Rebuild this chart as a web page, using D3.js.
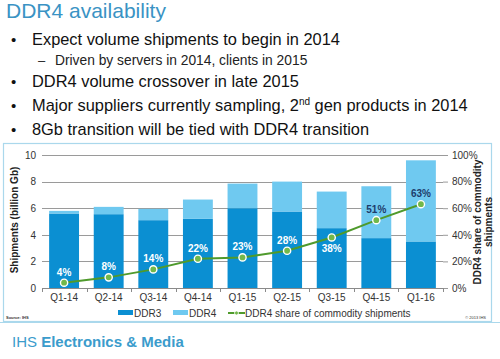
<!DOCTYPE html>
<html>
<head>
<meta charset="utf-8">
<script src="https://cdn.jsdelivr.net/npm/d3@7"></script>
<style>
  html, body { margin: 0; padding: 0; background: #fff; }
  svg { display: block; font-family: "Liberation Sans", Arial, sans-serif; }
</style>
</head>
<body>
<svg id="chart" width="500" height="359"></svg>
<script>
const categories = ["Q1-14", "Q2-14", "Q3-14", "Q4-14", "Q1-15", "Q2-15", "Q3-15", "Q4-15", "Q1-16"];
const ddr3 = [5.6, 5.55, 5.1, 5.2, 6.0, 5.75, 4.5, 3.75, 3.5];
const ddr4 = [0.2, 0.55, 0.85, 1.45, 1.85, 2.25, 2.75, 3.9, 6.1];
const share = [4, 8, 14, 22, 23, 28, 38, 51, 63];
const shareLabelBelow = [false, false, false, false, false, false, true, false, false];
const leftTicks = [0, 2, 4, 6, 8, 10];
const rightTicks = [0, 20, 40, 60, 80, 100];

const title = "DDR4 availability";
const bullets = [
  { level: 1, text: "Expect volume shipments to begin in 2014", y: 45 },
  { level: 2, text: "Driven by servers in 2014, clients in 2015", y: 65 },
  { level: 1, text: "DDR4 volume crossover in late 2015", y: 87 },
  { level: 1, text: "Major suppliers currently sampling, 2", sup: "nd", rest: " gen products in 2014", y: 111 },
  { level: 1, text: "8Gb transition will be tied with DDR4 transition", y: 135 }
];

const C_DDR3 = "#0b8fd2";
const C_DDR4 = "#6fc9f0";
const C_LINE = "#4f9a2c";
const C_TITLE = "#3a93c4";

const svg = d3.select("#chart");

// Title
svg.append("text").attr("x", 6).attr("y", 18)
  .attr("font-size", 21).attr("fill", C_TITLE).text(title);

// Bullets
bullets.forEach(b => {
  if (b.level === 1) {
    svg.append("text").attr("x", 11).attr("y", b.y).attr("font-size", 15).attr("fill", "#111").text("•");
    const t = svg.append("text").attr("x", 32).attr("y", b.y).attr("font-size", 16.4).attr("fill", "#111");
    t.append("tspan").text(b.text);
    if (b.sup) {
      t.append("tspan").attr("font-size", 10).attr("dy", -6).text(b.sup);
      t.append("tspan").attr("dy", 6).text(b.rest);
    }
  } else {
    svg.append("text").attr("x", 38).attr("y", b.y).attr("font-size", 13).attr("fill", "#222").text("–");
    svg.append("text").attr("x", 55).attr("y", b.y).attr("font-size", 13.8).attr("fill", "#222").text(b.text);
  }
});

// Panel
svg.append("rect").attr("x", 3.5).attr("y", 143.5).attr("width", 488).attr("height", 178)
  .attr("fill", "#fff").attr("stroke", "#aad8ec").attr("stroke-width", 1.2);
svg.append("line").attr("x1", 0).attr("x2", 500).attr("y1", 322.5).attr("y2", 322.5)
  .attr("stroke", "#aad8ec").attr("stroke-width", 1.2);

// Scales
const x = d3.scaleBand().domain(categories).range([42, 443]).paddingInner(0.33).paddingOuter(0.16);
const y = d3.scaleLinear().domain([0, 10]).range([288, 155]);
const yr = d3.scaleLinear().domain([0, 100]).range([288, 155]);

// Gridlines
svg.append("g").selectAll("line").data(leftTicks.slice(1)).join("line")
  .attr("x1", 42).attr("x2", 443)
  .attr("y1", d => Math.round(y(d)) + 0.5).attr("y2", d => Math.round(y(d)) + 0.5)
  .attr("stroke", "#9a9a9a").attr("stroke-width", 1);

// Left axis
const gL = svg.append("g").attr("transform", "translate(42,0)")
  .call(d3.axisLeft(y).tickValues(leftTicks).tickSize(0).tickPadding(6));
gL.select(".domain").remove();
gL.selectAll("text").attr("font-size", 10).attr("fill", "#333").attr("font-family", "Liberation Sans, Arial, sans-serif");

// Right axis
const gR = svg.append("g").attr("transform", "translate(443,0)")
  .call(d3.axisRight(yr).tickValues(rightTicks).tickFormat(d => d + "%").tickSize(5).tickPadding(4));
gR.select(".domain").remove();
gR.selectAll("line").attr("stroke", "#9a9a9a");
gR.selectAll("text").attr("font-size", 10).attr("fill", "#333").attr("font-family", "Liberation Sans, Arial, sans-serif");

// Bars
const stacked = categories.map((c, i) => ({ c, d3v: ddr3[i], d4v: ddr4[i] }));
svg.append("g").selectAll("rect").data(stacked).join("rect")
  .attr("x", d => x(d.c)).attr("width", x.bandwidth())
  .attr("y", d => y(d.d3v)).attr("height", d => y(0) - y(d.d3v))
  .attr("fill", C_DDR3);
svg.append("g").selectAll("rect").data(stacked).join("rect")
  .attr("x", d => x(d.c)).attr("width", x.bandwidth())
  .attr("y", d => y(d.d3v + d.d4v)).attr("height", d => y(d.d3v) - y(d.d3v + d.d4v))
  .attr("fill", C_DDR4);

// Bottom axis
const gB = svg.append("g").attr("transform", "translate(0,288)")
  .call(d3.axisBottom(x).tickSize(0).tickPadding(6));
gB.select(".domain").attr("stroke", "#8a8a8a");
gB.selectAll("text").attr("font-size", 10).attr("fill", "#333").attr("font-family", "Liberation Sans, Arial, sans-serif");
// category boundary ticks
const bounds = d3.range(categories.length + 1).map(i => 42 + i * (401 / categories.length));
svg.append("g").selectAll("line").data(bounds).join("line")
  .attr("x1", d => Math.round(d) + 0.5).attr("x2", d => Math.round(d) + 0.5)
  .attr("y1", 288).attr("y2", 292).attr("stroke", "#8a8a8a");

// Share line
const cx = c => x(c) + x.bandwidth() / 2;
const lineGen = d3.line().x((d, i) => cx(categories[i])).y(d => yr(d));
svg.append("path").datum(share).attr("d", lineGen)
  .attr("fill", "none").attr("stroke", C_LINE).attr("stroke-width", 2);
svg.append("g").selectAll("circle").data(share).join("circle")
  .attr("cx", (d, i) => cx(categories[i])).attr("cy", d => yr(d)).attr("r", 3.6)
  .attr("fill", "#72b84a").attr("stroke", "#fff").attr("stroke-width", 1.4);

// Share labels
svg.append("g").selectAll("text").data(share).join("text")
  .attr("x", (d, i) => cx(categories[i]))
  .attr("y", (d, i) => yr(d) + (shareLabelBelow[i] ? 15 : -7))
  .attr("text-anchor", "middle").attr("font-size", 10).attr("font-weight", "bold")
  .attr("fill", d => d >= 50 ? "#1d3c6b" : "#fff")
  .text(d => d + "%");

// Axis titles
svg.append("text").attr("transform", "translate(18,220) rotate(-90)")
  .attr("text-anchor", "middle").attr("font-size", 10).attr("font-weight", "bold").attr("fill", "#222")
  .text("Shipments (billion Gb)");
svg.append("text").attr("transform", "translate(481,222) rotate(-90)")
  .attr("text-anchor", "middle").attr("font-size", 10).attr("font-weight", "bold").attr("fill", "#222")
  .text("DDR4 share of commodity");
svg.append("text").attr("transform", "translate(492,222) rotate(-90)")
  .attr("text-anchor", "middle").attr("font-size", 10).attr("font-weight", "bold").attr("fill", "#222")
  .text("shipments");

// Legend
const ly = 313;
const lg = svg.append("g");
lg.append("rect").attr("x", 118).attr("y", ly - 3).attr("width", 15).attr("height", 5).attr("fill", C_DDR3);
lg.append("text").attr("x", 134).attr("y", ly + 3.5).attr("font-size", 10).attr("fill", "#333").text("DDR3");
lg.append("rect").attr("x", 173).attr("y", ly - 3).attr("width", 15).attr("height", 5).attr("fill", C_DDR4);
lg.append("text").attr("x", 189).attr("y", ly + 3.5).attr("font-size", 10).attr("fill", "#333").text("DDR4");
lg.append("line").attr("x1", 228).attr("x2", 245).attr("y1", ly).attr("y2", ly).attr("stroke", C_LINE).attr("stroke-width", 2);
lg.append("circle").attr("cx", 236.5).attr("cy", ly).attr("r", 2).attr("fill", "#72b84a").attr("stroke", "#fff").attr("stroke-width", 0.8);
lg.append("text").attr("x", 245).attr("y", ly + 3.5).attr("font-size", 10).attr("fill", "#333").text("DDR4 share of commodity shipments");

// Source / copyright
svg.append("text").attr("x", 6).attr("y", 319).attr("font-size", 4).attr("font-weight", "bold").attr("fill", "#333").text("Source: IHS");
svg.append("text").attr("x", 486).attr("y", 319).attr("font-size", 4).attr("text-anchor", "end").attr("fill", "#333").text("© 2013 IHS");

// Footer
const ft = svg.append("text").attr("x", 12).attr("y", 347).attr("font-size", 15).attr("fill", "#3b9ccc");
ft.append("tspan").text("IHS ");
ft.append("tspan").attr("font-weight", "bold").text("Electronics & Media");
</script>
</body>
</html>
